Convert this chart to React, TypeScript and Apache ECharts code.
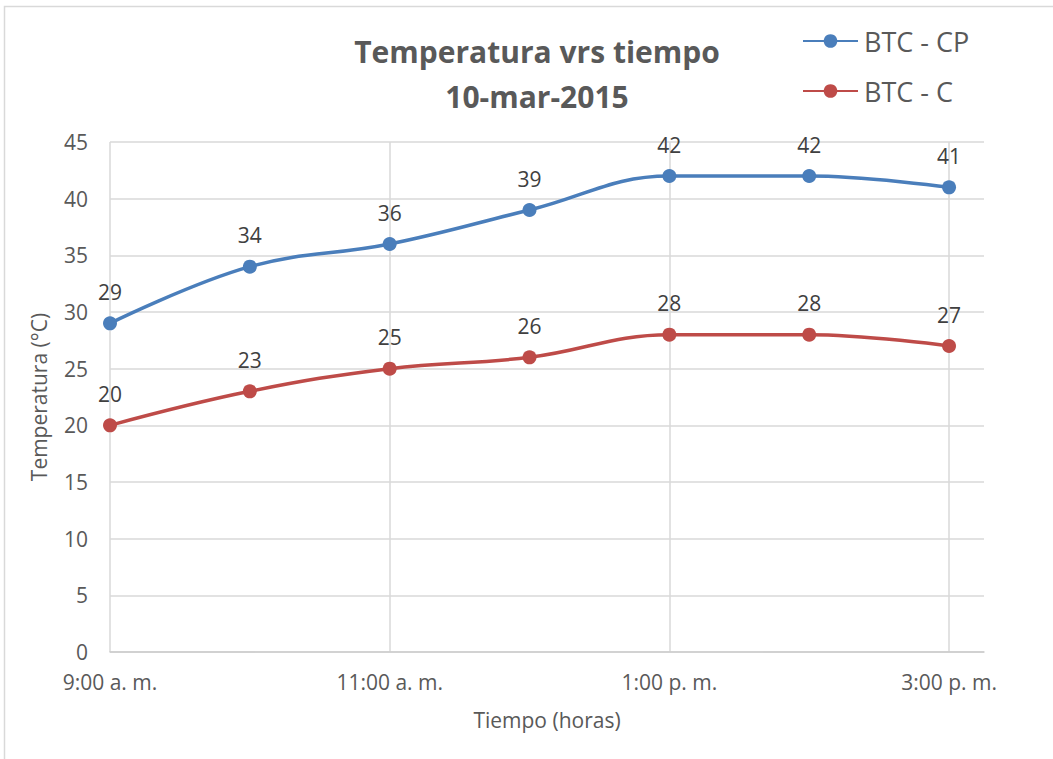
import React, { useEffect, useRef } from "react";
import * as echarts from "echarts";

const timeLabels = ["9:00 a. m.", "10:00 a. m.", "11:00 a. m.", "12:00 p. m.", "1:00 p. m.", "2:00 p. m.", "3:00 p. m."];
const hoursFromStart = [0, 1, 2, 3, 4, 5, 6];
const btcCP = [29, 34, 36, 39, 42, 42, 41];
const btcC = [20, 23, 25, 26, 28, 28, 27];
const gridHours = [0, 2, 4, 6];

const FONT = "'Open Sans', 'Noto Sans', sans-serif";
const GRAY = "#595959";

export default function App() {
  const ref = useRef<HTMLDivElement>(null);
  useEffect(() => {
    if (!ref.current) return;
    const chart = echarts.init(ref.current, undefined, { renderer: "svg" });
    const label = {
      show: true,
      position: "top",
      distance: 14,
      color: "#404040",
      fontSize: 21,
      fontFamily: FONT,
    };
    chart.setOption({
      animation: false,
      backgroundColor: "#ffffff",
      textStyle: { fontFamily: FONT },
      graphic: [
        {
          type: "rect",
          shape: { x: 4.5, y: 6.5, width: 1100, height: 800 },
          style: { fill: "none", stroke: "#d9d9d9", lineWidth: 1.5 },
          silent: true,
          z: -10,
        },
      ],
      title: {
        text: "Temperatura vrs tiempo\n10-mar-2015",
        left: 532,
        top: 24,
        textAlign: "center",
        textStyle: {
          fontFamily: FONT,
          fontWeight: "bold",
          fontSize: 30,
          lineHeight: 45,
          color: GRAY,
        },
      },
      legend: {
        orient: "vertical",
        left: 797,
        top: 20,
        itemWidth: 55,
        itemHeight: 17,
        itemGap: 18,
        textStyle: { fontFamily: FONT, fontSize: 27, color: GRAY, lineHeight: 32, padding: [0, 0, 0, 1] },
        data: ["BTC - CP", "BTC - C"],
      },
      grid: { left: 110, right: 69, top: 142, bottom: 107 },
      xAxis: {
        type: "value",
        min: 0,
        max: 6.25,
        interval: 2,
        name: "Tiempo (horas)",
        nameLocation: "middle",
        nameGap: 57,
        nameTextStyle: { fontFamily: FONT, fontSize: 21, color: GRAY },
        axisLine: { show: true, lineStyle: { color: "#cccccc", width: 1.5 } },
        axisTick: { show: false },
        splitLine: { show: false },
        axisLabel: {
          margin: 19,
          fontFamily: FONT,
          fontSize: 21,
          color: GRAY,
          showMaxLabel: false,
          formatter: (v: number) => (Number.isInteger(v) && v % 2 === 0 ? timeLabels[v] : ""),
        },
      },
      yAxis: {
        type: "value",
        min: 0,
        max: 45,
        interval: 5,
        name: "Temperatura (°C)",
        nameLocation: "middle",
        nameGap: 61,
        nameTextStyle: { fontFamily: FONT, fontSize: 21, color: GRAY },
        axisLine: { show: false },
        axisTick: { show: false },
        splitLine: { show: true, lineStyle: { color: "#d9d9d9", width: 1.5 } },
        axisLabel: { margin: 22, fontFamily: FONT, fontSize: 21, color: GRAY },
      },
      series: [
        {
          name: "BTC - CP",
          type: "line",
          smooth: 0.4,
          symbol: "circle",
          symbolSize: 14,
          color: "#4a7ebb",
          lineStyle: { width: 3.5, color: "#4a7ebb" },
          itemStyle: { color: "#4a7ebb" },
          label,
          data: hoursFromStart.map((h, i) => [h, btcCP[i]]),
          markLine: {
            silent: true,
            symbol: "none",
            label: { show: false },
            lineStyle: { color: "#d9d9d9", width: 1.5, type: "solid" },
            data: gridHours.map((h) => ({ xAxis: h })),
            z: 0,
          },
          z: 3,
        },
        {
          name: "BTC - C",
          type: "line",
          smooth: 0.4,
          symbol: "circle",
          symbolSize: 14,
          color: "#be4b48",
          lineStyle: { width: 3.5, color: "#be4b48" },
          itemStyle: { color: "#be4b48" },
          label,
          data: hoursFromStart.map((h, i) => [h, btcC[i]]),
          z: 3,
        },
      ],
    });
    return () => chart.dispose();
  }, []);
  return (
    <div
      ref={ref}
      style={{ position: "absolute", left: 0, top: 0, width: 1053, height: 759, background: "#fff" }}
    />
  );
}
